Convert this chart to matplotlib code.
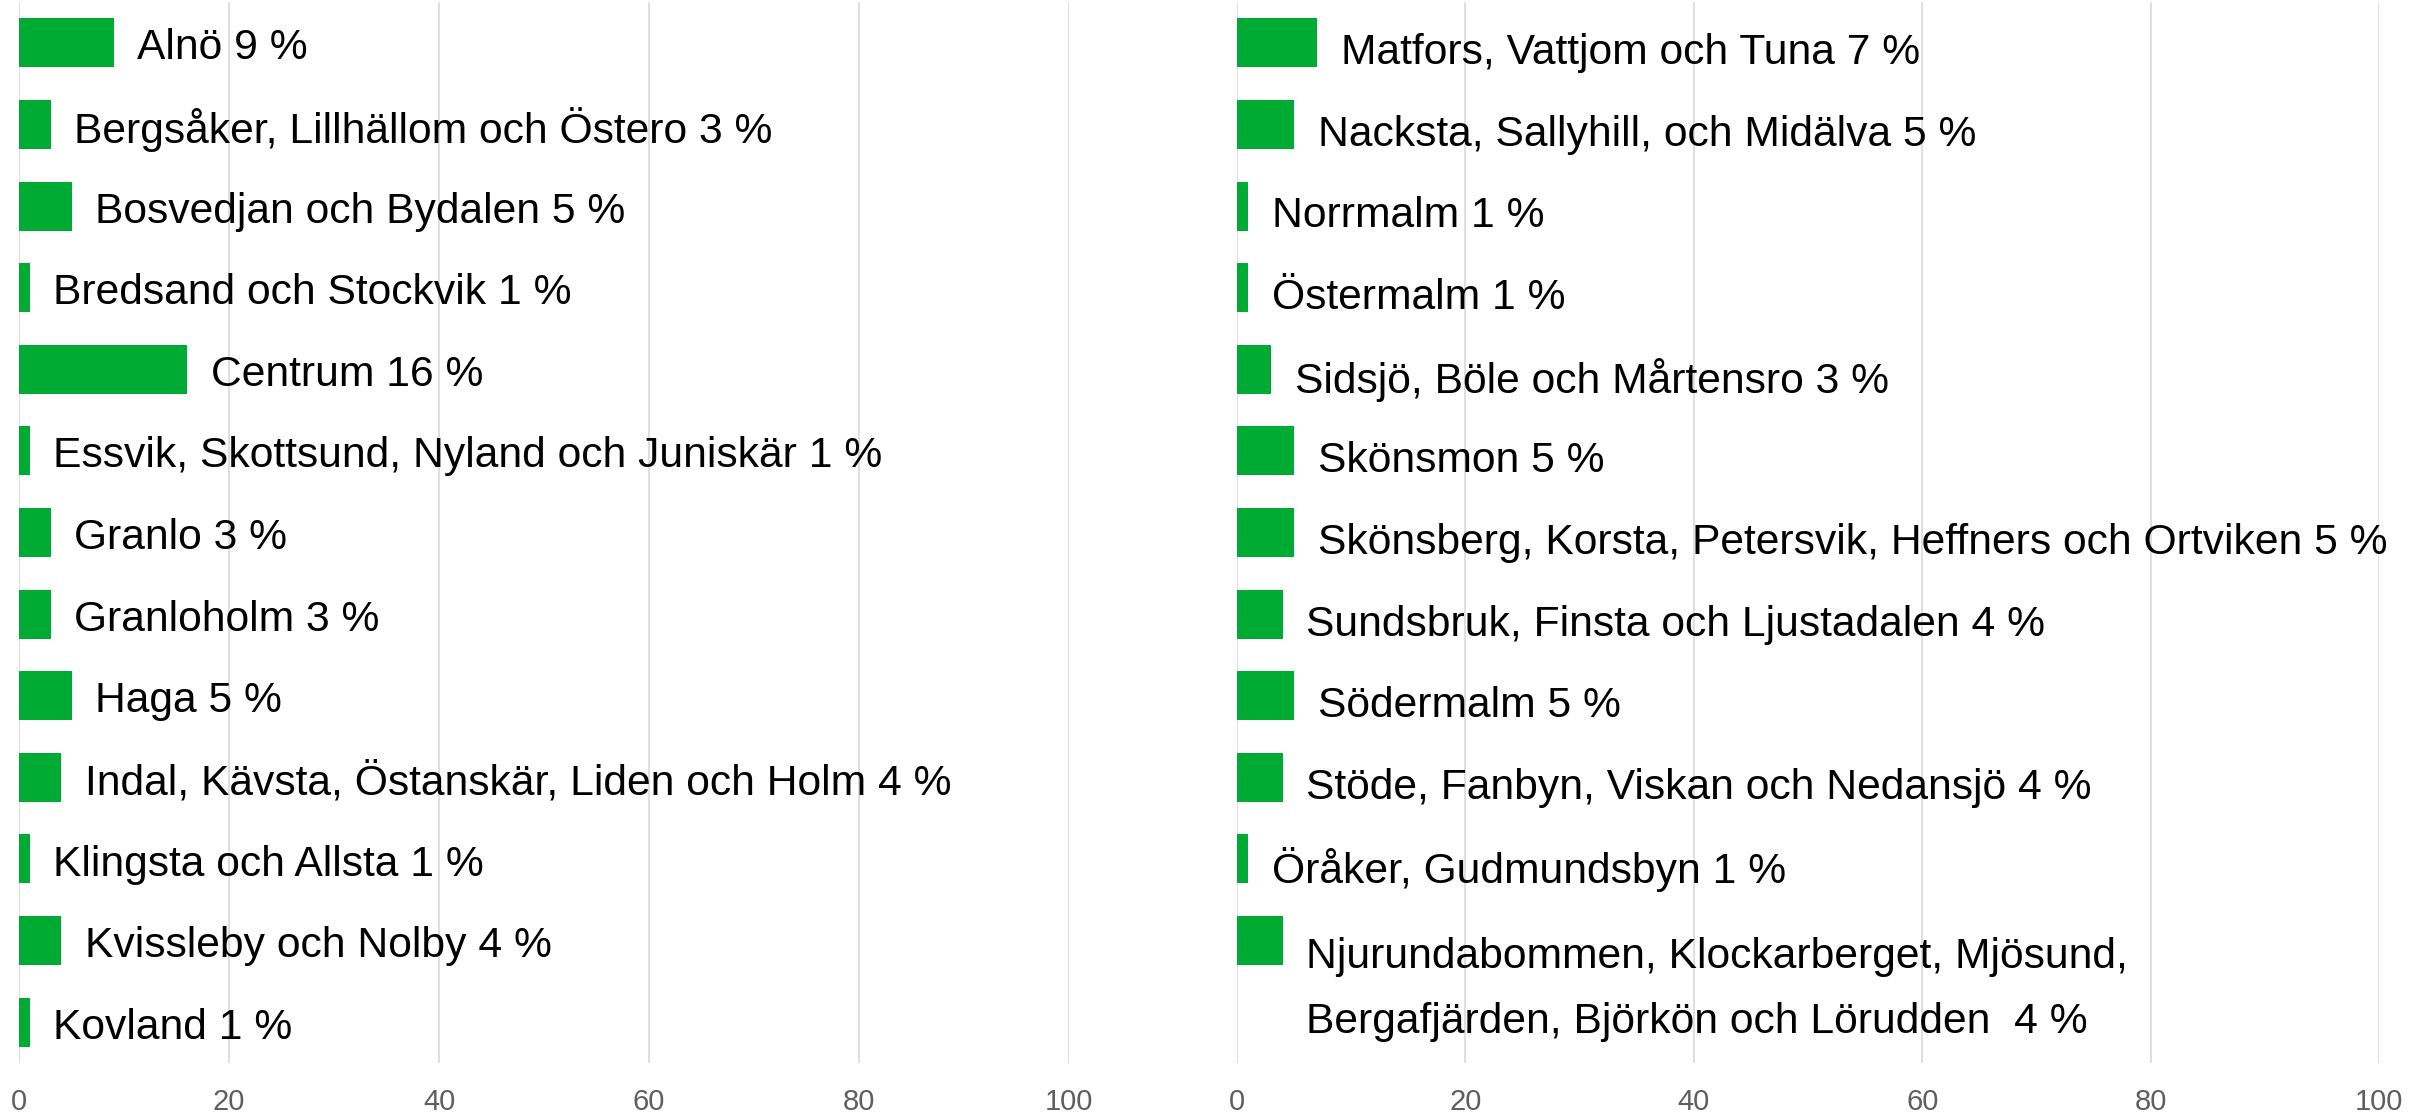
import matplotlib
matplotlib.use("Agg")
import matplotlib.pyplot as plt

# share of respondents per district, left and right column
left_names = [
    "Alnö",
    "Bergsåker, Lillhällom och Östero",
    "Bosvedjan och Bydalen",
    "Bredsand och Stockvik",
    "Centrum",
    "Essvik, Skottsund, Nyland och Juniskär",
    "Granlo",
    "Granloholm",
    "Haga",
    "Indal, Kävsta, Östanskär, Liden och Holm",
    "Klingsta och Allsta",
    "Kvissleby och Nolby",
    "Kovland",
]
left_values = [9, 3, 5, 1, 16, 1, 3, 3, 5, 4, 1, 4, 1]

right_names = [
    "Matfors, Vattjom och Tuna",
    "Nacksta, Sallyhill, och Midälva",
    "Norrmalm",
    "Östermalm",
    "Sidsjö, Böle och Mårtensro",
    "Skönsmon",
    "Skönsberg, Korsta, Petersvik, Heffners och Ortviken",
    "Sundsbruk, Finsta och Ljustadalen",
    "Södermalm",
    "Stöde, Fanbyn, Viskan och Nedansjö",
    "Öråker, Gudmundsbyn",
    "Njurundabommen, Klockarberget, Mjösund,\nBergafjärden, Björkön och Lörudden ",
]
right_values = [7, 5, 1, 1, 3, 5, 5, 4, 5, 4, 1, 4]

x_ticks = [0, 20, 40, 60, 80, 100]

BAR_COLOR = "#00ab33"
GRID_COLOR = "#d9d9d9"
FONT = "Liberation Sans"

W, H = 2423, 1118
fig = plt.figure(figsize=(W / 100, H / 100), dpi=100)


def draw_panel(rect, names, values, label_drop):
    ax = fig.add_axes(rect)
    ypos = list(range(len(names)))
    ax.barh(ypos, values, height=0.6, color=BAR_COLOR, zorder=2)
    for y, name, val in zip(ypos, names, values):
        label = f"{name} {val} %"
        nlines = label.count("\n")
        ax.annotate(label, (val, y + 0.47 * nlines), xytext=(17, -label_drop),
                    textcoords="offset points", va="center", ha="left",
                    fontsize=30.7, family=FONT, linespacing=1.8, zorder=3)
    ax.set_xlim(0, 100)
    ax.set_ylim(12.5, -0.5)
    ax.set_xticks(x_ticks)
    ax.set_yticks([])
    ax.grid(axis="x", color=GRID_COLOR, linewidth=1.2, zorder=0)
    ax.tick_params(axis="x", length=0, pad=18, labelsize=21, labelcolor="#5f5f5f")
    for lab in ax.get_xticklabels():
        lab.set_family(FONT)
    for s in ax.spines.values():
        s.set_visible(False)
    return ax


bottom = 1 - 1063 / H
height = 1061 / H
draw_panel([19 / W, bottom, 1050 / W, height], left_names, left_values, 4)
draw_panel([1237 / W, bottom, 1142 / W, height], right_names, right_values, 7.5)

fig.savefig("out.png", dpi=100)
